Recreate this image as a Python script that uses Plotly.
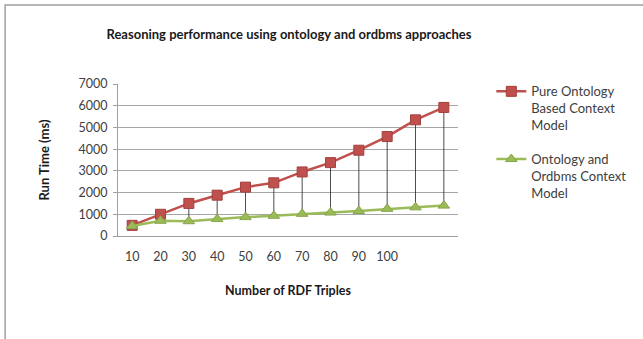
import plotly.graph_objects as go

tick_labels = ["10", "20", "30", "40", "50", "60", "70", "80", "90", "100"]
pure_ontology = [490, 1000, 1500, 1880, 2250, 2450, 2950, 3380, 3950, 4580, 5350, 5920]
ontology_ordbms = [460, 700, 680, 780, 870, 930, 1020, 1080, 1150, 1250, 1320, 1400]
series_names = ["Pure Ontology<br>Based Context<br>Model", "Ontology and<br>Ordbms Context<br>Model"]
y_ticks = [0, 1000, 2000, 3000, 4000, 5000, 6000, 7000]

x_pos = list(range(len(pure_ontology)))

# high-low drop lines between the two series
drop_x, drop_y = [], []
for xi, hi, lo in zip(x_pos, pure_ontology, ontology_ordbms):
    drop_x += [xi, xi, None]
    drop_y += [hi, lo, None]

fig = go.Figure()
fig.add_trace(go.Scatter(x=drop_x, y=drop_y, mode="lines",
                         line=dict(color="#202020", width=0.8),
                         showlegend=False, hoverinfo="skip"))
fig.add_trace(go.Scatter(x=x_pos, y=pure_ontology, mode="lines+markers",
                         name=series_names[0], legendgroup="a",
                         line=dict(color="#C0504D", width=2.5),
                         marker=dict(symbol="square", size=10, color="#C0504D",
                                     line=dict(color="#A33F3C", width=1))))
fig.add_trace(go.Scatter(x=x_pos, y=ontology_ordbms, mode="lines+markers",
                         name=series_names[1], legendgroup="b",
                         line=dict(color="#9BBB59", width=2.5),
                         marker=dict(symbol="triangle-up", size=10, color="#9BBB59",
                                     line=dict(color="#86A648", width=1))))

font_family = "Lato, Liberation Sans, sans-serif"
fig.update_layout(
    width=643, height=339,
    margin=dict(l=118, r=185, t=84, b=103),
    paper_bgcolor="white", plot_bgcolor="white",
    font=dict(family=font_family, size=12.5, color="#404040"),
    title=dict(text="<b>Reasoning performance using ontology and ordbms approaches</b>",
               x=0.503, xref="paper", xanchor="center", y=0.897, yanchor="middle",
               font=dict(size=13, color="#1a1a1a", family=font_family)),
    xaxis=dict(range=[-0.5, len(pure_ontology) - 0.5],
               tickvals=list(range(len(tick_labels))), ticktext=tick_labels,
               showgrid=False, zeroline=False, showline=True, linecolor="#A0A0A0",
               linewidth=1, ticks="", ticklabelstandoff=9,
               tickfont=dict(size=12.5, color="#404040"),
               title=dict(text="<b>Number of RDF Triples</b>", standoff=23,
                          font=dict(size=12.5, color="#1a1a1a"))),
    yaxis=dict(range=[0, 7000], tickvals=y_ticks, showgrid=True, gridcolor="#A6A6A6",
               gridwidth=1, zeroline=False, showline=True, linecolor="#A0A0A0",
               ticks="outside", ticklen=4, tickcolor="#A0A0A0", ticklabelstandoff=3,
               tickfont=dict(size=12.5, color="#404040"),
               title=dict(text="<b>Run Time (ms)</b>", standoff=25,
                          font=dict(size=13, color="#1a1a1a"))),
    legend=dict(x=1.098, y=1.05, xanchor="left", yanchor="top", valign="top",
                tracegroupgap=14, traceorder="grouped",
                font=dict(size=13, color="#404040"), bgcolor="rgba(0,0,0,0)"),
    shapes=[dict(type="rect", xref="paper", yref="paper",
                 x0=-0.332, x1=1.6, y0=-0.75, y1=1.52,
                 line=dict(color="#A0A0A0", width=1.5), fillcolor="rgba(0,0,0,0)",
                 layer="below")],
)

fig.write_html("out.html", config={"displayModeBar": False},
               post_script="document.body.style.margin='0px';")
